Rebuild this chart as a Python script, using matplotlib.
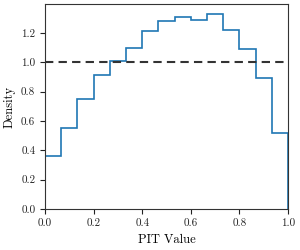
import matplotlib
matplotlib.use("Agg")
import matplotlib.pyplot as plt
import numpy as np

# PIT histogram values (density per bin), 15 equal bins on [0, 1]
bin_edges = np.linspace(0.0, 1.0, 16)
density = [0.36, 0.55, 0.75, 0.91, 1.01, 1.10, 1.21, 1.28, 1.31, 1.29,
           1.33, 1.22, 1.09, 0.89, 0.52]
xticks = [0.0, 0.2, 0.4, 0.6, 0.8, 1.0]
yticks = [0.0, 0.2, 0.4, 0.6, 0.8, 1.0, 1.2]

plt.rcParams['font.family'] = 'serif'
plt.rcParams['font.serif'] = ['cmr10', 'DejaVu Serif']
plt.rcParams['mathtext.fontset'] = 'cm'
plt.rcParams['axes.formatter.use_mathtext'] = True
plt.rcParams['font.size'] = 8

fig = plt.figure(figsize=(3.0, 2.5), dpi=100)
ax = fig.add_axes([0.15, 0.164, 0.81, 0.82])

ax.stairs(density, bin_edges, baseline=0, color='#1f77b4', linewidth=1.2)
ax.axhline(1.0, color='#333333', linestyle='--', linewidth=1.5, dashes=(4, 2.5))

ax.set_xlim(0, 1)
ax.set_ylim(0, max(density) * 1.05)
ax.set_xticks(xticks)
ax.set_yticks(yticks)
ax.set_xticklabels([f"{t:.1f}" for t in xticks])
ax.set_yticklabels([f"{t:.1f}" for t in yticks])
ax.set_xlabel("PIT Value", fontsize=9)
ax.set_ylabel("Density", fontsize=9)
for s in ax.spines.values():
    s.set_color('#333333')
ax.tick_params(colors='#222222', length=3.5, width=0.8)

fig.savefig("out.png", dpi=100)
